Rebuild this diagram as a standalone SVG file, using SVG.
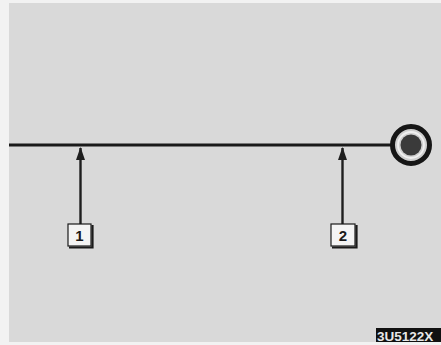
<svg xmlns="http://www.w3.org/2000/svg" width="441" height="345" viewBox="0 0 441 345">
  <defs>
    <style>
      .lbl-box { fill: #f4f4f4; stroke: #1a1a1a; stroke-width: 1.2; }
      .lbl-shadow { fill: none; stroke: #1a1a1a; stroke-width: 2.2; }
      .lbl-text { font-family: "Liberation Sans", Arial, sans-serif; font-size: 15px; font-weight: bold; fill: #1a1a1a; text-anchor: middle; }
      .shaft { stroke: #1e1e1e; stroke-width: 2.4; fill: none; }
    </style>
    <marker id="arrowhead" markerWidth="13" markerHeight="9" refX="12" refY="4.5" orient="auto" markerUnits="userSpaceOnUse" viewBox="0 0 13 9">
      <path d="M0,0 L13,4.5 L0,9 Z" fill="#1e1e1e"/>
    </marker>
  </defs>
  <rect x="0" y="0" width="441" height="345" fill="#f2f2f2"/>
  <rect x="9" y="3" width="432" height="339" fill="#d9d9d9"/>

  <g id="connectors">
    <line x1="9" y1="145" x2="393" y2="145" stroke="#1a1a1a" stroke-width="3"/>
    <path class="shaft" d="M80.5,224 V148" marker-end="url(#arrowhead)"/>
    <path class="shaft" d="M342.5,224 V148" marker-end="url(#arrowhead)"/>
  </g>

  <g id="terminal">
    <circle cx="411" cy="145" r="18.5" fill="#cfcfcf" stroke="#161616" stroke-width="5"/>
    <circle cx="411" cy="145" r="13" fill="none" stroke="#f0f0f0" stroke-width="1.8"/>
    <circle cx="411" cy="145" r="10.5" fill="#3a3a3a"/>
  </g>

  <g id="label-1">
    <rect class="lbl-box" x="68" y="224" width="23" height="22"/>
    <path class="lbl-shadow" d="M69,247.5 H92.5 V225"/>
    <text class="lbl-text" x="79.5" y="241">1</text>
  </g>

  <g id="label-2">
    <rect class="lbl-box" x="331" y="224" width="24" height="22"/>
    <path class="lbl-shadow" d="M332,247.5 H356.5 V225"/>
    <text class="lbl-text" x="343" y="241">2</text>
  </g>

  <g id="code">
    <rect x="376" y="328" width="65" height="14" fill="#111111"/>
    <text x="377" y="340.5" font-family="Liberation Sans, Arial, sans-serif" font-size="13.5" font-weight="bold" fill="#e8e8e8">3U5122X</text>
  </g>
</svg>
